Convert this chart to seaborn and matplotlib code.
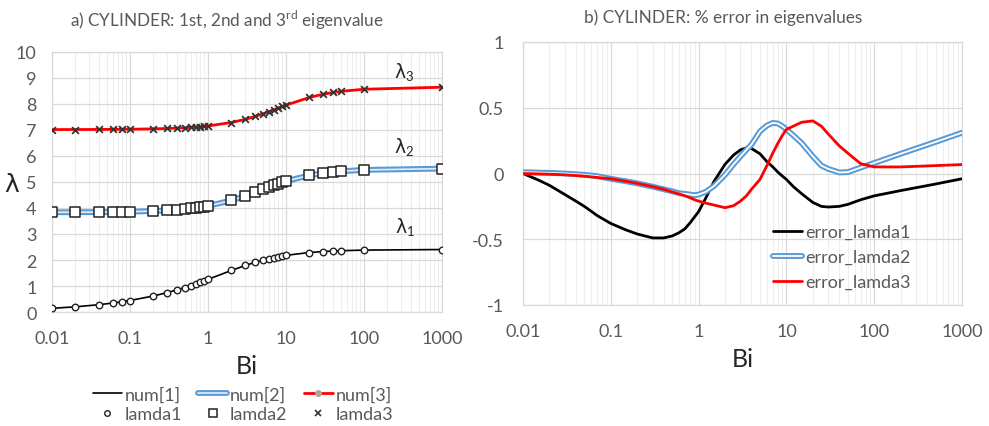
import matplotlib
matplotlib.use("Agg")
import matplotlib.pyplot as plt
from matplotlib.lines import Line2D
from matplotlib.ticker import FixedLocator, LogLocator, NullFormatter
import pandas as pd
import seaborn as sns

# Biot numbers at which the eigenvalues were evaluated
bi = [0.01, 0.02, 0.04, 0.06, 0.08, 0.1, 0.2, 0.3, 0.4, 0.5, 0.6, 0.7, 0.8, 0.9,
      1, 2, 3, 4, 5, 6, 7, 8, 9, 10, 20, 30, 40, 50, 100, 1000]

# first three eigenvalues of the cylinder
lamda1 = [0.1412, 0.1995, 0.2814, 0.3438, 0.3960, 0.4417, 0.6170, 0.7465, 0.8516, 0.9408,
          1.0184, 1.0873, 1.1490, 1.2048, 1.2558, 1.5995, 1.7887, 1.9081, 1.9898, 2.0490,
          2.0937, 2.1286, 2.1566, 2.1795, 2.2880, 2.3261, 2.3455, 2.3572, 2.3809, 2.4024]
lamda2 = [3.8343, 3.8369, 3.8421, 3.8473, 3.8525, 3.8577, 3.8835, 3.9091, 3.9344, 3.9594,
          3.9841, 4.0085, 4.0325, 4.0562, 4.0795, 4.2910, 4.4634, 4.6018, 4.7131, 4.8033,
          4.8772, 4.9384, 4.9897, 5.0332, 5.2568, 5.3410, 5.3846, 5.4112, 5.4652, 5.5146]
lamda3 = [7.0170, 7.0184, 7.0213, 7.0241, 7.0270, 7.0298, 7.0440, 7.0582, 7.0723, 7.0864,
          7.1004, 7.1143, 7.1282, 7.1421, 7.1558, 7.2884, 7.4103, 7.5201, 7.6177, 7.7039,
          7.7797, 7.8464, 7.9051, 7.9569, 8.2534, 8.3771, 8.4432, 8.4840, 8.5678, 8.6451]

# Biot numbers of the % error curves
bi_err = [0.01, 0.015, 0.02, 0.03, 0.04, 0.05, 0.07, 0.1, 0.15, 0.2,
          0.3, 0.4, 0.5, 0.6, 0.7, 0.8, 0.9, 1, 1.2, 1.5,
          2, 2.5, 3, 3.5, 4, 5, 6, 7, 8, 9,
          10, 12, 15, 20, 25, 30, 40, 50, 70, 100,
          200, 500, 1000]

# % error of the numerical eigenvalues
error_lamda1 = [0.0, -0.05, -0.09, -0.16, -0.21, -0.25, -0.32, -0.38, -0.43, -0.46,
                -0.49, -0.49, -0.475, -0.45, -0.42, -0.375, -0.33, -0.29, -0.19, -0.06,
                0.07, 0.14, 0.18, 0.195, 0.19, 0.15, 0.09, 0.05, 0.01, -0.02,
                -0.045, -0.10, -0.155, -0.22, -0.25, -0.255, -0.25, -0.235, -0.2, -0.17,
                -0.13, -0.08, -0.04]
error_lamda2 = [0.01, 0.007, 0.005, 0.0, -0.005, -0.01, -0.02, -0.04, -0.06, -0.075,
                -0.1, -0.12, -0.135, -0.15, -0.155, -0.16, -0.165, -0.16, -0.14, -0.095,
                -0.01, 0.07, 0.13, 0.18, 0.22, 0.32, 0.365, 0.385, 0.38, 0.36,
                0.335, 0.29, 0.23, 0.13, 0.06, 0.035, 0.008, 0.01, 0.045, 0.08,
                0.15, 0.24, 0.31]
error_lamda3 = [0.0, -0.003, -0.005, -0.01, -0.015, -0.02, -0.03, -0.04, -0.06, -0.075,
                -0.1, -0.12, -0.14, -0.155, -0.17, -0.185, -0.2, -0.21, -0.225, -0.24,
                -0.26, -0.245, -0.21, -0.17, -0.12, -0.045, 0.06, 0.155, 0.23, 0.29,
                0.335, 0.36, 0.39, 0.40, 0.36, 0.30, 0.21, 0.155, 0.075, 0.05,
                0.05, 0.06, 0.068]

x_ticks = [0.01, 0.1, 1, 10, 100, 1000]
x_ticklabels = ["0.01", "0.1", "1", "10", "100", "1000"]
y1_ticks = list(range(0, 11))
y2_ticks = [-1, -0.5, 0, 0.5, 1]
y2_ticklabels = ["-1", "-0.5", "0", "0.5", "1"]

df = pd.DataFrame({"Bi": bi, "lamda1": lamda1, "lamda2": lamda2, "lamda3": lamda3})
df_err = pd.DataFrame({"Bi": bi_err, "error_lamda1": error_lamda1,
                       "error_lamda2": error_lamda2, "error_lamda3": error_lamda3})

sns.set_theme(style="white")
plt.rcParams["font.family"] = ["Lato", "DejaVu Sans"]
plt.rcParams["mathtext.fontset"] = "custom"
plt.rcParams["mathtext.rm"] = "Lato"
plt.rcParams["mathtext.it"] = "DejaVu Sans"
plt.rcParams["mathtext.bf"] = "Lato:bold"

GRAY_TXT = "#595959"
GRID = "#d9d9d9"
GRID_MINOR = "#eeeeee"
BLUE = "#5b9bd5"
RED = "#ff0000"

fig = plt.figure(figsize=(9.89, 4.27), dpi=100)
W, H = 989, 427
ax1 = fig.add_axes([52 / W, 1 - 313 / H, 390 / W, 260 / H])
ax2 = fig.add_axes([523 / W, 1 - 306 / H, 439 / W, 263 / H])


def style_axes(ax, yticks, ylabels, ypad):
    ax.set_xscale("log")
    ax.set_xlim(0.01, 1000)
    ax.xaxis.set_major_locator(FixedLocator(x_ticks))
    ax.set_xticklabels(x_ticklabels)
    ax.xaxis.set_minor_locator(LogLocator(base=10, subs=range(2, 10)))
    ax.xaxis.set_minor_formatter(NullFormatter())
    ax.set_yticks(yticks)
    ax.set_yticklabels(ylabels)
    ax.set_ylim(yticks[0], yticks[-1])
    ax.set_axisbelow(True)
    ax.xaxis.grid(True, which="minor", color=GRID_MINOR, lw=0.8)
    ax.xaxis.grid(True, which="major", color=GRID, lw=0.9)
    ax.yaxis.grid(True, which="major", color=GRID, lw=0.9)
    ax.tick_params(axis="both", which="both", length=0, labelsize=13,
                   labelcolor=GRAY_TXT)
    ax.tick_params(axis="x", pad=13)
    ax.tick_params(axis="y", pad=ypad)
    for s in ax.spines.values():
        s.set_color(GRID)
        s.set_linewidth(0.9)
    ax.set_xlabel("Bi", fontsize=18, color="#262626", labelpad=6)
    ax.set_ylabel("")


# ---- a) eigenvalues ----
sns.lineplot(data=df, x="Bi", y="lamda1", ax=ax1, color="black", lw=1.2,
             estimator=None, legend=False, zorder=3)
sns.lineplot(data=df, x="Bi", y="lamda2", ax=ax1, color=BLUE, lw=4.2,
             estimator=None, legend=False, zorder=3)
sns.lineplot(data=df, x="Bi", y="lamda2", ax=ax1, color="#e4eef8", lw=1.2,
             estimator=None, legend=False, zorder=3)
sns.lineplot(data=df, x="Bi", y="lamda3", ax=ax1, color=RED, lw=2.0,
             estimator=None, legend=False, zorder=3)
sns.scatterplot(data=df, x="Bi", y="lamda1", ax=ax1, marker="o", s=22,
                color="white", edgecolor="#222222", linewidth=1.0, zorder=4, legend=False)
sns.scatterplot(data=df, x="Bi", y="lamda2", ax=ax1, marker="s", s=42,
                color="white", edgecolor="#222222", linewidth=1.1, zorder=4, legend=False)
sns.scatterplot(data=df, x="Bi", y="lamda3", ax=ax1, marker="x", s=24,
                color="#333333", linewidth=1.3, zorder=4, legend=False)
style_axes(ax1, y1_ticks, [str(v) for v in y1_ticks], 11)
fig.text(227 / W, 1 - 20 / H, r"a) CYLINDER: 1st, 2nd and 3$^{\mathrm{rd}}$ eigenvalue",
         fontsize=12.3, color=GRAY_TXT, ha="center", va="center")
fig.text(12 / W, 1 - 185 / H, r"$\lambda$", fontsize=18, color="#262626",
         ha="center", va="center")
for lbl, yv in (("1", 3.27), ("2", 6.35), ("3", 9.23)):
    ax1.text(330, yv, r"$\lambda_%s$" % lbl, fontsize=13.5, color="#262626",
             ha="center", va="center")

h_num1 = Line2D([], [], color="black", lw=1.2)
h_num2 = (Line2D([], [], color=BLUE, lw=4.2), Line2D([], [], color="#e4eef8", lw=1.2))
h_num3 = Line2D([], [], color=RED, lw=2.0, marker="o", markersize=4,
                markerfacecolor="#a6a6a6", markeredgecolor="#a6a6a6")
h_l1 = Line2D([], [], ls="none", marker="o", markersize=4, markerfacecolor="white",
              markeredgecolor="#222222", markeredgewidth=1.0)
h_l2 = Line2D([], [], ls="none", marker="s", markersize=5.5, markerfacecolor="white",
              markeredgecolor="#222222", markeredgewidth=1.1)
h_l3 = Line2D([], [], ls="none", marker="x", markersize=4.5, color="#333333",
              markeredgewidth=1.2)
fig.legend([h_num1, h_l1, h_num2, h_l2, h_num3, h_l3],
           ["num[1]", "lamda1", "num[2]", "lamda2", "num[3]", "lamda3"],
           ncol=3, loc="center", bbox_to_anchor=(243 / W, 1 - 405 / H),
           frameon=False, fontsize=13, handlelength=1.6, handletextpad=0.15,
           columnspacing=0.9, labelspacing=0.2, labelcolor=GRAY_TXT)

# ---- b) % error ----
sns.lineplot(data=df_err, x="Bi", y="error_lamda1", ax=ax2, color="black", lw=2.0,
             estimator=None, legend=False, zorder=3)
sns.lineplot(data=df_err, x="Bi", y="error_lamda2", ax=ax2, color=BLUE, lw=4.2,
             estimator=None, legend=False, zorder=3)
sns.lineplot(data=df_err, x="Bi", y="error_lamda2", ax=ax2, color="white", lw=1.3,
             estimator=None, legend=False, zorder=3)
sns.lineplot(data=df_err, x="Bi", y="error_lamda3", ax=ax2, color=RED, lw=2.0,
             estimator=None, legend=False, zorder=3)
style_axes(ax2, y2_ticks, y2_ticklabels, 14)
fig.text(723 / W, 1 - 18 / H, "b) CYLINDER: % error in eigenvalues",
         fontsize=12.4, color=GRAY_TXT, ha="center", va="center")

h_e1 = Line2D([], [], color="black", lw=2.0)
h_e2 = (Line2D([], [], color=BLUE, lw=4.2), Line2D([], [], color="white", lw=1.3))
h_e3 = Line2D([], [], color=RED, lw=2.0)
ax2.legend([h_e1, h_e2, h_e3], ["error_lamda1", "error_lamda2", "error_lamda3"],
           loc="center", bbox_to_anchor=(842 / W, 1 - 258 / H),
           bbox_transform=fig.transFigure, frameon=False, fontsize=13,
           handlelength=1.6, handletextpad=0.15, labelspacing=0.5,
           labelcolor=GRAY_TXT)

fig.savefig("out.png", dpi=100)
